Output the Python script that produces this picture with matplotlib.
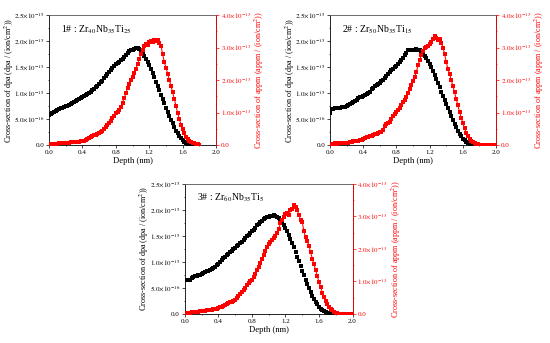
import numpy as np
import matplotlib
matplotlib.use('Agg')
import matplotlib.pyplot as plt
from matplotlib.ticker import FixedLocator, AutoMinorLocator

plt.rcParams['font.family'] = ['Liberation Serif', 'DejaVu Serif']
plt.rcParams['mathtext.fontset'] = 'stix'

# depth grid (nm), 0.02 nm bins
depth = np.round(np.arange(0, 2.0, 0.02), 2)

# cross-section of dpa, units of 1e-15 dpa/(ion/cm^2)
dpa1 = [0.58, 0.60, 0.62, 0.64, 0.66, 0.68, 0.69, 0.71, 0.72, 0.74,
        0.75, 0.76, 0.78, 0.79, 0.80, 0.82, 0.84, 0.86, 0.88, 0.90,
        0.92, 0.94, 0.97, 0.99, 1.01, 1.03, 1.05, 1.08, 1.11, 1.14,
        1.17, 1.21, 1.24, 1.29, 1.33, 1.37, 1.41, 1.45, 1.49, 1.52,
        1.55, 1.57, 1.60, 1.63, 1.66, 1.70, 1.74, 1.78, 1.80, 1.82,
        1.83, 1.85, 1.86, 1.87, 1.84, 1.80, 1.76, 1.71, 1.66, 1.60,
        1.54, 1.47, 1.39, 1.31, 1.22, 1.13, 1.05, 0.97, 0.88, 0.80,
        0.72, 0.64, 0.56, 0.49, 0.42, 0.35, 0.28, 0.23, 0.18, 0.13,
        0.09, 0.06, 0.04, 0.02, 0.01, 0.005, 0.002, 0.0]
dpa2 = [0.61, 0.69, 0.70, 0.71, 0.71, 0.72, 0.72, 0.73, 0.73, 0.74,
        0.75, 0.77, 0.79, 0.81, 0.83, 0.85, 0.87, 0.90, 0.92, 0.93,
        0.95, 0.96, 0.98, 1.00, 1.03, 1.07, 1.10, 1.13, 1.15, 1.17,
        1.20, 1.23, 1.26, 1.29, 1.32, 1.36, 1.40, 1.44, 1.47, 1.50,
        1.53, 1.56, 1.60, 1.64, 1.68, 1.73, 1.78, 1.82, 1.83, 1.82,
        1.83, 1.82, 1.84, 1.83, 1.82, 1.79, 1.75, 1.71, 1.67, 1.62,
        1.56, 1.50, 1.43, 1.35, 1.27, 1.19, 1.11, 1.03, 0.95, 0.87,
        0.79, 0.71, 0.63, 0.55, 0.48, 0.41, 0.34, 0.28, 0.22, 0.17,
        0.12, 0.09, 0.06, 0.04, 0.02, 0.01, 0.005, 0.0]
dpa3 = [0.65, 0.65, 0.66, 0.66, 0.69, 0.71, 0.72, 0.73, 0.74, 0.75,
        0.76, 0.78, 0.80, 0.82, 0.83, 0.85, 0.87, 0.89, 0.91, 0.93,
        0.96, 0.99, 1.03, 1.07, 1.10, 1.13, 1.16, 1.19, 1.21, 1.24,
        1.27, 1.30, 1.33, 1.36, 1.39, 1.42, 1.46, 1.49, 1.52, 1.55,
        1.59, 1.62, 1.66, 1.70, 1.73, 1.76, 1.79, 1.82, 1.84, 1.86,
        1.87, 1.88, 1.89, 1.90, 1.89, 1.87, 1.84, 1.80, 1.76, 1.71,
        1.65, 1.59, 1.52, 1.44, 1.36, 1.28, 1.19, 1.10, 1.01, 0.92,
        0.83, 0.74, 0.65, 0.57, 0.49, 0.42, 0.35, 0.29, 0.23, 0.18,
        0.14, 0.10, 0.07, 0.05, 0.03, 0.02, 0.01, 0.005, 0.0]

# cross-section of appm, units of 1e-13 appm/(ion/cm^2)
appm1 = [0.02, 0.03, 0.03, 0.04, 0.04, 0.04, 0.05, 0.05, 0.05, 0.06,
         0.06, 0.07, 0.07, 0.08, 0.08, 0.09, 0.10, 0.10, 0.11, 0.12,
         0.13, 0.14, 0.16, 0.19, 0.22, 0.25, 0.27, 0.30, 0.31, 0.33,
         0.36, 0.40, 0.44, 0.49, 0.55, 0.61, 0.67, 0.74, 0.82, 0.91,
         0.98, 1.02, 1.08, 1.18, 1.30, 1.45, 1.59, 1.75, 1.88, 2.00,
         2.10, 2.22, 2.35, 2.50, 2.65, 2.80, 2.93, 3.05, 3.12, 3.08,
         3.18, 3.20, 3.16, 3.22, 3.20, 3.23, 3.15, 3.05, 2.80, 2.55,
         2.38, 2.20, 2.00, 1.82, 1.62, 1.42, 1.20, 0.98, 0.80, 0.62,
         0.48, 0.36, 0.26, 0.19, 0.14, 0.10, 0.07, 0.05, 0.03, 0.02,
         0.0]
appm2 = [0.03, 0.04, 0.04, 0.05, 0.04, 0.05, 0.05, 0.06, 0.05, 0.05,
         0.06, 0.07, 0.09, 0.10, 0.12, 0.12, 0.13, 0.14, 0.15, 0.17,
         0.20, 0.22, 0.24, 0.26, 0.27, 0.29, 0.31, 0.33, 0.35, 0.37,
         0.39, 0.41, 0.45, 0.60, 0.64, 0.67, 0.72, 0.80, 0.88, 0.96,
         1.03, 1.08, 1.14, 1.22, 1.32, 1.40, 1.48, 1.60, 1.72, 1.85,
         1.97, 2.10, 2.26, 2.45, 2.62, 2.78, 2.90, 2.98, 3.03, 3.05,
         3.12, 3.18, 3.26, 3.36, 3.28, 3.22, 3.25, 3.15, 3.00, 2.80,
         2.55, 2.35, 2.18, 2.00, 1.82, 1.62, 1.42, 1.22, 1.02, 0.84,
         0.68, 0.52, 0.38, 0.28, 0.19, 0.12, 0.08, 0.05, 0.03, 0.02,
         0.01, 0.0, 0.0, 0.0, 0.0, 0.0, 0.0, 0.0, 0.0, 0.0]
appm3 = [0.03, 0.03, 0.04, 0.04, 0.05, 0.06, 0.06, 0.07, 0.07, 0.08,
         0.09, 0.09, 0.10, 0.11, 0.12, 0.13, 0.13, 0.14, 0.15, 0.16,
         0.18, 0.20, 0.22, 0.24, 0.27, 0.30, 0.33, 0.36, 0.37, 0.38,
         0.42, 0.48, 0.55, 0.61, 0.66, 0.72, 0.80, 0.88, 0.96, 1.00,
         1.05, 1.12, 1.22, 1.34, 1.45, 1.56, 1.68, 1.80, 1.93, 2.05,
         2.15, 2.22, 2.28, 2.32, 2.40, 2.48, 2.62, 2.78, 2.88, 2.98,
         3.06, 3.10, 3.05, 3.18, 3.22, 3.35, 3.28, 3.20, 3.05, 2.90,
         2.82, 2.55, 2.35, 2.25, 2.10, 1.90, 1.70, 1.52, 1.35, 1.15,
         0.98, 0.82, 0.65, 0.52, 0.40, 0.30, 0.22, 0.16, 0.11, 0.07,
         0.04, 0.02, 0.01, 0.0, 0.0, 0.0, 0.0, 0.0, 0.0, 0.0]

labels = [r'1# : Zr$_{40}$Nb$_{35}$Ti$_{25}$',
          r'2# : Zr$_{50}$Nb$_{35}$Ti$_{15}$',
          r'3# : Zr$_{60}$Nb$_{35}$Ti$_{5}$']

left_ticks = [0, 0.5, 1.0, 1.5, 2.0, 2.5]
left_ticklabels = ['0.0', r'$5.0{\times}10^{-16}$', r'$1.0{\times}10^{-15}$',
                   r'$1.5{\times}10^{-15}$', r'$2.0{\times}10^{-15}$',
                   r'$2.5{\times}10^{-15}$']
right_ticks = [0, 1, 2, 3, 4]
right_ticklabels = ['0.0', r'$1.0{\times}10^{-13}$', r'$2.0{\times}10^{-13}$',
                    r'$3.0{\times}10^{-13}$', r'$4.0{\times}10^{-13}$']

RED = '#ff0000'
fig = plt.figure(figsize=(5.5, 3.43), dpi=100)

rects = [[0.089, 0.577, 0.304, 0.379],
         [0.600, 0.577, 0.302, 0.379],
         [0.336, 0.085, 0.305, 0.379]]
dpas = [dpa1, dpa2, dpa3]
appms = [appm1, appm2, appm3]

for rect, d, a, lab in zip(rects, dpas, appms, labels):
    ax = fig.add_axes(rect)
    ax.plot(depth[:len(d)], d, 's', color='black', ms=2.2, mew=0)
    ax.set_xlim(0, 2.0)
    ax.set_ylim(0, 2.5)
    ax.set_xticks([0, 0.4, 0.8, 1.2, 1.6, 2.0])
    ax.set_xticklabels(['0.0', '0.4', '0.8', '1.2', '1.6', '2.0'])
    ax.yaxis.set_major_locator(FixedLocator(left_ticks))
    ax.set_yticklabels(left_ticklabels)
    ax.xaxis.set_minor_locator(AutoMinorLocator(2))
    ax.yaxis.set_minor_locator(AutoMinorLocator(2))
    ax.tick_params(which='both', direction='out', labelsize=5.0, width=0.5,
                   pad=1.5)
    ax.tick_params(which='major', length=2)
    ax.tick_params(which='minor', length=1)
    ax.set_xlabel('Depth (nm)', fontsize=6.2, labelpad=1.5)
    ax.set_ylabel(r'Cross-section of dpa (dpa / (ion/cm$^2$))', fontsize=5.9)
    ax.yaxis.set_label_coords(-0.2, 0.5)
    ax.text(0.07, 0.89, lab, transform=ax.transAxes, fontsize=7,
            va='center', ha='left')
    for s in ax.spines.values():
        s.set_linewidth(0.6)
    ax.spines['top'].set_color('#555555')

    ax2 = ax.twinx()
    ax2.plot(depth[:len(a)], a, 's-', color=RED, ms=2.2, mew=0, lw=0.75)
    ax2.set_ylim(0, 4.0)
    ax2.yaxis.set_major_locator(FixedLocator(right_ticks))
    ax2.set_yticklabels(right_ticklabels)
    ax2.yaxis.set_minor_locator(AutoMinorLocator(2))
    ax2.tick_params(which='both', direction='out', labelsize=5.0, width=0.5,
                    colors=RED, pad=1.5)
    ax2.tick_params(which='major', length=2)
    ax2.tick_params(which='minor', length=1)
    ax2.set_ylabel(r'Cross-section of appm (appm / (ion/cm$^2$))',
                   fontsize=5.9, color=RED)
    ax2.yaxis.set_label_coords(1.22, 0.5)
    ax2.spines['right'].set_color(RED)
    ax2.spines['right'].set_linewidth(0.6)
    ax2.spines['left'].set_visible(False)
    ax2.spines['top'].set_visible(False)
    ax2.spines['bottom'].set_visible(False)

fig.savefig('out.png', dpi=100)
